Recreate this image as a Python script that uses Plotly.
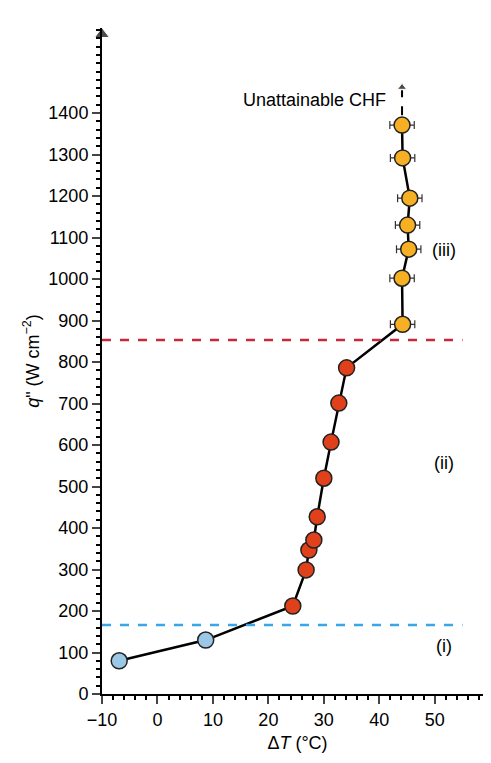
import plotly.graph_objects as go

# data
dt_i = [-6.9, 8.7]
q_i = [80, 130]
dt_ii = [24.4, 26.8, 27.3, 28.2, 28.8, 30.0, 31.3, 32.7, 34.1]
q_ii = [212, 299, 347, 371, 427, 520, 607, 701, 786]
dt_iii = [44.2, 44.1, 45.3, 45.1, 45.5, 44.2, 44.1]
q_iii = [891, 1002, 1072, 1130, 1195, 1292, 1371]
err_i = [1.0, 1.0]
err_ii = [0.8] * 9
err_iii = [2.2] * 7
ycap_i, ycap_ii = 166, 853
x_min, x_max = -10, 60.5
y_max = 1605

font = dict(family="Liberation Sans, Arial", size=18, color="black")

fig = go.Figure()
fig.add_trace(go.Scatter(x=dt_i + dt_ii + dt_iii, y=q_i + q_ii + q_iii, mode="lines",
                         line=dict(color="black", width=2.5), showlegend=False))
for xs, ys, er, col in [(dt_i, q_i, err_i, "#9cc8e8"), (dt_ii, q_ii, err_ii, "#e0401a"),
                        (dt_iii, q_iii, err_iii, "#f7b023")]:
    fig.add_trace(go.Scatter(x=xs, y=ys, mode="markers", showlegend=False,
                             error_x=dict(type="data", array=er, color="#333", thickness=1.2, width=4),
                             marker=dict(size=16, color=col, line=dict(color="#222", width=1.5))))

fig.add_shape(type="line", x0=x_min, x1=55, y0=ycap_ii, y1=ycap_ii,
              line=dict(color="#c8283a", width=2.5, dash="dash"))
fig.add_shape(type="line", x0=x_min, x1=55, y0=ycap_i, y1=ycap_i,
              line=dict(color="#3aa6e6", width=2.5, dash="dash"))
fig.add_shape(type="line", x0=44.1, x1=44.1, y0=1395, y1=1455,
              line=dict(color="black", width=2, dash="dash"))
# arrow heads: CHF arrow, y axis, x axis
fig.add_trace(go.Scatter(x=[44.1, x_min], y=[1462, y_max - 15], mode="markers", cliponaxis=False,
                         marker=dict(symbol="triangle-up", size=[8, 13], color="black"),
                         showlegend=False, hoverinfo="skip"))
fig.add_trace(go.Scatter(x=[x_max - 0.8], y=[0], mode="markers", cliponaxis=False,
                         marker=dict(symbol="triangle-right", size=13, color="black"),
                         showlegend=False, hoverinfo="skip"))

fig.add_annotation(x=41.5, y=1431, text="Unattainable CHF", showarrow=False, xanchor="right", font=font)
for t, y in [("(iii)", 1070), ("(ii)", 557), ("(i)", 116)]:
    fig.add_annotation(x=51.6, y=y, text=t, showarrow=False, font=font)

fig.update_xaxes(range=[x_min, x_max], tickvals=list(range(-10, 60, 10)),
                 ticktext=["\u221210", "0", "10", "20", "30", "40", "50"],
                 showline=True, linecolor="black", linewidth=2, ticks="outside", ticklen=8,
                 tickwidth=1.5, showgrid=False, zeroline=False,
                 minor=dict(dtick=2, ticks="outside", ticklen=4, tickcolor="black"),
                 title=dict(text="\u0394<i>T</i> (\u00b0C)", font=font, standoff=8), tickfont=font)
fig.update_yaxes(range=[0, y_max], tickvals=list(range(0, 1500, 100)),
                 showline=True, linecolor="black", linewidth=2, ticks="outside", ticklen=8,
                 tickwidth=1.5, showgrid=False, zeroline=False,
                 minor=dict(dtick=20, ticks="outside", ticklen=4, tickcolor="black"),
                 title=dict(text="<i>q</i>\" (W cm<sup>\u22122</sup>)", font=font, standoff=4),
                 tickfont=font)
fig.update_layout(width=491, height=763, margin=dict(l=94, r=6, t=20, b=77),
                  plot_bgcolor="white", paper_bgcolor="white")
fig.write_html("out.html")
